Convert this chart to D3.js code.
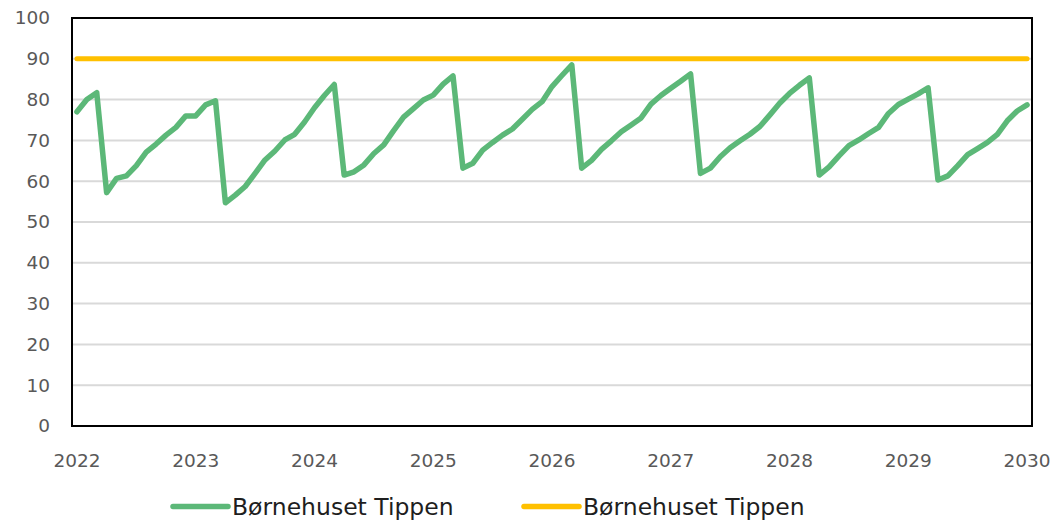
<!DOCTYPE html>
<html>
<head>
<meta charset="utf-8">
<script src="https://cdn.jsdelivr.net/npm/d3@7"></script>
<style>
body{margin:0;background:#fff;}
svg{display:block;font-family:"DejaVu Sans",Verdana,sans-serif;}
</style>
</head>
<body>
<svg class="chart"></svg>
<script>
var width  = 1058;
var height = 520;

// months Jan 2022 .. Jan 2030
var months = d3.timeMonth.range(new Date(2022,0,1), new Date(2030,0,2));
var yearLabels = ["2022","2023","2024","2025","2026","2027","2028","2029","2030"];
var yTicks = [0,10,20,30,40,50,60,70,80,90,100];

var seriesName = "Børnehuset Tippen";
var children = [
  77.0, 80.0, 81.7, 57.2, 60.7, 61.3, 63.8, 67.1, 69.1, 71.3, 73.2, 76.0,
  76.0, 78.7, 79.7, 54.7, 56.6, 58.7, 61.9, 65.2, 67.4, 70.1, 71.5, 74.5,
  78.0, 81.0, 83.7, 61.5, 62.3, 64.0, 66.8, 68.9, 72.4, 75.7, 77.8, 79.9,
  81.1, 83.8, 85.8, 63.2, 64.4, 67.6, 69.5, 71.3, 72.8, 75.2, 77.6, 79.5,
  83.2, 85.9, 88.5, 63.2, 65.1, 67.8, 69.9, 72.1, 73.8, 75.5, 78.9, 81.0,
  82.8, 84.5, 86.3, 61.9, 63.2, 66.0, 68.2, 69.9, 71.5, 73.4, 76.2, 79.1,
  81.5, 83.5, 85.3, 61.5, 63.5, 66.2, 68.7, 70.1, 71.7, 73.2, 76.6, 78.8,
  80.1, 81.4, 82.9, 60.3, 61.3, 63.8, 66.5, 68.0, 69.5, 71.5, 74.8, 77.2,
  78.7
];
var capacity = 90;

var green  = "#5cb878";
var yellow = "#ffc000";

var plotLeft = 72, plotRight = 1032, plotTop = 18, plotBottom = 426;

var svg = d3.select('.chart')
    .attr("width",width)
    .attr("height",height);

var xscale = d3.scaleBand()
    .domain(months)
    .range([plotLeft,plotRight])
    .padding(0);

function xpos(d){ return xscale(d) + xscale.bandwidth()/2; }

var yscale = d3.scaleLinear()
    .domain([0,100])
    .range([plotBottom,plotTop]);

// grid
svg.append('g')
    .selectAll('line')
    .data(yTicks)
    .enter()
    .append('line')
    .attr("x1",plotLeft)
    .attr("x2",plotRight)
    .attr("y1",d=>yscale(d))
    .attr("y2",d=>yscale(d))
    .attr("stroke","#d9d9d9")
    .attr("stroke-width",2);

// y labels
var yAxis = d3.axisLeft(yscale)
    .tickValues(yTicks)
    .tickSize(0)
    .tickPadding(22);

svg.append('g')
    .attr("transform",`translate(${plotLeft},0)`)
    .call(yAxis)
    .call(g=>g.select('.domain').remove())
    .selectAll('text')
    .attr("fill","#595959")
    .style("font-size","18.5px")
    .style("font-family","DejaVu Sans, Verdana, sans-serif");

// x labels at each January
var januaries = months.filter(d=>d.getMonth() === 0);
svg.append('g')
    .selectAll('text')
    .data(januaries)
    .enter()
    .append('text')
    .attr("x",d=>xpos(d))
    .attr("y",467)
    .attr("text-anchor","middle")
    .attr("fill","#595959")
    .style("font-size","18.5px")
    .text((d,i)=>yearLabels[i]);

// plot border
svg.append('rect')
    .attr("x",plotLeft)
    .attr("y",plotTop)
    .attr("width",plotRight-plotLeft)
    .attr("height",plotBottom-plotTop)
    .attr("fill","none")
    .attr("stroke","#000")
    .attr("stroke-width",2);

// capacity line
svg.append('line')
    .attr("x1",xpos(months[0]))
    .attr("x2",xpos(months[months.length-1]))
    .attr("y1",yscale(capacity))
    .attr("y2",yscale(capacity))
    .attr("stroke",yellow)
    .attr("stroke-width",5)
    .attr("stroke-linecap","round");

var line = d3.line()
    .x((d,i)=>xpos(months[i]))
    .y(d=>yscale(d));

svg.append('path')
    .datum(children)
    .attr("d",line)
    .attr("fill","none")
    .attr("stroke",green)
    .attr("stroke-width",5.5)
    .attr("stroke-linejoin","round")
    .attr("stroke-linecap","round");

// legend
var legend = [
  {color:green, x:173},
  {color:yellow, x:524}
];
var lg = svg.append('g')
    .selectAll('g')
    .data(legend)
    .enter()
    .append('g')
    .attr("transform",d=>`translate(${d.x},506.5)`);

lg.append('line')
    .attr("x1",0)
    .attr("x2",55)
    .attr("stroke",d=>d.color)
    .attr("stroke-width",5.5)
    .attr("stroke-linecap","round");

lg.append('text')
    .attr("x",59)
    .attr("y",8)
    .attr("fill","#1e1e1e")
    .style("font-size","23.5px")
    .text(seriesName);
</script>
</body>
</html>
